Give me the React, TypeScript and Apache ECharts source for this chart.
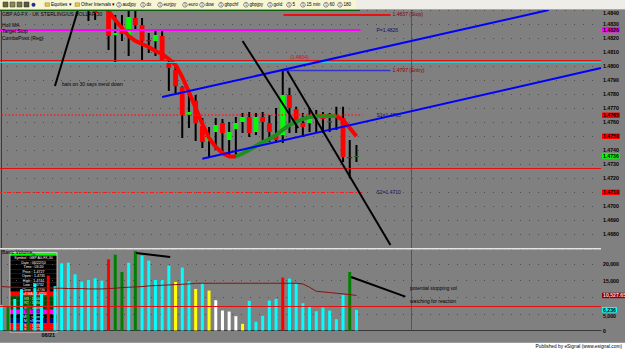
import React, { useEffect, useRef } from "react";
import * as echarts from "echarts";

const FONT = "'Liberation Sans', Arial, sans-serif";

// ---------- data ----------
const SLOT_COUNT = 90; // bar slots on the time axis (54 bars drawn + empty space to the right)
const slots = Array.from({ length: SLOT_COUNT }, (_, i) => String(i));
const dayMarks: Record<number, string> = { 7: "06/21" };

// [open, close, low, high]
const ohlc: number[][] = [
  [1.4872, 1.4878, 1.4866, 1.4884],
  [1.4878, 1.4874, 1.4869, 1.4883],
  [1.4874, 1.488, 1.487, 1.4886],
  [1.488, 1.4871, 1.4866, 1.4885],
  [1.4871, 1.4875, 1.4864, 1.4879],
  [1.4875, 1.4866, 1.4861, 1.4878],
  [1.4866, 1.4869, 1.486, 1.4874],
  [1.4869, 1.4861, 1.4856, 1.4872],
  [1.4861, 1.4864, 1.4855, 1.4868],
  [1.4864, 1.4856, 1.485, 1.4867],
  [1.4856, 1.4858, 1.4849, 1.4863],
  [1.4858, 1.4852, 1.4846, 1.4861],
  [1.4852, 1.4854, 1.4844, 1.4859],
  [1.4854, 1.4849, 1.48322, 1.4858],
  [1.4846, 1.48379, 1.48329, 1.485],
  [1.4845, 1.4848, 1.4842, 1.4851],
  [1.4843, 1.48215, 1.48115, 1.4846],
  [1.48222, 1.48237, 1.48023, 1.48365],
  [1.48251, 1.48229, 1.4818, 1.48365],
  [1.48215, 1.48351, 1.48073, 1.48394],
  [1.48344, 1.48294, 1.48258, 1.48415],
  [1.48294, 1.4818, 1.48037, 1.48344],
  [1.48187, 1.4818, 1.48094, 1.48237],
  [1.4818, 1.48222, 1.48073, 1.48251],
  [1.48215, 1.48037, 1.48037, 1.48251],
  [1.48023, 1.47987, 1.47823, 1.48058],
  [1.47973, 1.47857, 1.47809, 1.48008],
  [1.47851, 1.47652, 1.47488, 1.47857],
  [1.47652, 1.47673, 1.47559, 1.47831],
  [1.47753, 1.47595, 1.47466, 1.47795],
  [1.47573, 1.47459, 1.47416, 1.4763],
  [1.47466, 1.47502, 1.47352, 1.47566],
  [1.47531, 1.47581, 1.47402, 1.4763],
  [1.47595, 1.47523, 1.47388, 1.47623],
  [1.47473, 1.47531, 1.47352, 1.47602],
  [1.47552, 1.47595, 1.47352, 1.47638],
  [1.47602, 1.47638, 1.47523, 1.47666],
  [1.47638, 1.47523, 1.47495, 1.47673],
  [1.47531, 1.47638, 1.47509, 1.47666],
  [1.47638, 1.47602, 1.47473, 1.47673],
  [1.47595, 1.47531, 1.47459, 1.47652],
  [1.47502, 1.47473, 1.47452, 1.47702],
  [1.47509, 1.47795, 1.47452, 1.47973],
  [1.47795, 1.47702, 1.47523, 1.47846],
  [1.47695, 1.47595, 1.47523, 1.4771],
  [1.47595, 1.47566, 1.47495, 1.47666],
  [1.47595, 1.47652, 1.47531, 1.47702],
  [1.47652, 1.4763, 1.47523, 1.47688],
  [1.47638, 1.47623, 1.47523, 1.47673],
  [1.47602, 1.47609, 1.47531, 1.47666],
  [1.47652, 1.47638, 1.47545, 1.4771],
  [1.4763, 1.47352, 1.47316, 1.4771],
  [1.47352, 1.4735, 1.47202, 1.47473],
  [1.47355, 1.4736, 1.47316, 1.47438],
];

const hullFalling: (number | string)[] = [
  1.4879, 1.4878, 1.4877, 1.4876, 1.4874, 1.4873, 1.4871, 1.4869, 1.4867, 1.4865,
  1.4862, 1.4859, 1.4856, 1.4853, 1.4849, 1.4845, 1.48394, 1.48329, 1.48272, 1.48215,
  1.4818, 1.48158, 1.48137, 1.48108, 1.48087, 1.48051, 1.48008, 1.47923, 1.47816, 1.47702,
  1.47588, 1.47488, 1.47423, 1.4738, 1.47356, 1.47356, "-", "-", "-", "-",
  "-", "-", "-", "-", "-", "-", "-", "-", "-", "-",
  1.47645, 1.47616, 1.47559, 1.475,
];
const hullRising: (number | string)[] = [
  "-", "-", "-", "-", "-", "-", "-", "-", "-", "-",
  "-", "-", "-", "-", "-", "-", "-", "-", "-", "-",
  "-", "-", "-", "-", "-", "-", "-", "-", "-", "-",
  "-", "-", "-", "-", "-", 1.47356, 1.47377, 1.47402, 1.47431, 1.47459,
  1.4748, 1.47509, 1.47545, 1.47581, 1.47602, 1.47623, 1.47638, 1.47645, 1.47645, 1.47645,
  1.47645, "-", "-", "-",
];

const volumes = [
  7700, 7200, 9500, 12400, 8100, 14200, 11000, 16500, 13300, 20200,
  20400, 16900, 14700, 15200, 15700, 15000, 21400, 22800, 17600, 20400,
  23900, 22500, 21000, 15200, 15200, 19500, 14600, 18900, 14800, 12500,
  14200, 12000, 9100, 6000, 5700, 4300, 2000, 8900, 2600, 4400,
  9000, 9500, 15900, 15600, 14100, 8200, 7200, 5800, 6900, 6000,
  3400, 10700, 17600, 6200,
];
// c = cyan, g = green, r = red, y = yellow, w = white
const volumeKind = "cgccgccrcccccccc" + "rggcgccccc" + "yccycywwwwy" + "ccccc" + "r" + "ccccccccc" + "g" + "c";

const volumeMA = [
  13200, 13100, 13000, 13000, 12900, 12900, 12800, 12800, 12700, 12700,
  12600, 12600, 12600, 12500, 12500, 12500, 12600, 12700, 12900, 13000,
  13100, 13200, 13400, 13500, 13600, 13700, 13800, 13900, 14000, 14200,
  14200, 14200, 14200, 14200, 14200, 14200, 14200, 14200, 14200, 14200,
  14200, 14200, 14200, 14200, 14200, 14000, 13000, 11800, 11600, 11400,
  11200, 11000, 10800, 10527.65,
];

const stopLevel = 1.4837;
const entryLevel = 1.4797;
const pivotLevel = 1.4826;
const s1Level = 1.4765;
const s2Level = 1.471;
const fibLevel = 1.4804;
const cyanLevel = 1.4803;
const hullLast = 1.475;
const lastClose = 1.4736;
const cursorPrice = 1.4727;
const cursorVolume = 7370;
const cursorSlot = 61.2;
const lastVolumeTag = 6236;

// drawn trend lines: [slot, price]
const upperChannel = [[24, 1.4778], [81.7, 1.484]];
const lowerChannel = [[30, 1.4734], [89.5, 1.47987]];
const blackPriceLines = [
  [[8.0, 1.47859], [11.43, 1.48401]],
  [[36.0, 1.4818], [44.3, 1.47559]],
  [[42.68, 1.47966], [58.07, 1.46724]],
];
// [slot, volume]
const blackVolumeLines = [
  [[20.1, 23300], [25.2, 22100]],
  [[52.2, 16100], [60.3, 10200]],
];

const dataWindow = [
  ["On", "#00ff00", "#000000"],
  ["Symbol : GBP A0-FX,30", "#000000", "#ffffff"],
  ["Date : 06/22/10", "#000000", "#ffffff"],
  ["Time : 03:20", "#000000", "#ffffff"],
  ["Price : 1.4727", "#000000", "#ffffff"],
  ["Open : 1.4735", "#000000", "#ffffff"],
  ["High : 1.4744", "#000000", "#ffffff"],
  ["Low : 1.4732", "#000000", "#ffffff"],
  ["Close : 1.4736", "#000000", "#ffffff"],
  ["Hull MA : 1.4750", "#ff0000", "#ffffff"],
  ["R3 : 1.5003", "#004d00", "#ffffff"],
  ["R2 : 1.4942", "#004d00", "#ffffff"],
  ["R1 : 1.4882", "#004d00", "#ffffff"],
  ["P : 1.4826", "#ff00ff", "#000000"],
  ["MP : <None>", "#000000", "#ffffff"],
  ["M : <None>", "#000080", "#ffffff"],
  ["S1 : 1.4765", "#ff0000", "#ffffff"],
  ["S2 : 1.4710", "#ff0000", "#ffffff"],
];

const toolbarButtons: [string, number][] = [
  ["audjpy", 119], ["dx", 143], ["eurjpy", 160], ["euro", 185], ["dow", 202],
  ["gbpchf", 221], ["gbpjpy", 246], ["gold", 270], ["5", 289], ["15 min", 303],
  ["60", 326], ["180", 340],
];

// ---------- option ----------
const kindColor: Record<string, string> = {
  c: "#00ffff", g: "#008000", r: "#ff0000", y: "#ffff00", w: "#ffffff",
};

// axis ticks whose label is covered by a coloured value tag
const coveredPriceTicks = [hullLast, s2Level];
const coveredVolumeTicks = [10000];

function tag(value: number, text: string, bg: string, fg: string) {
  return {
    yAxis: value,
    lineStyle: { color: "rgba(0,0,0,0)", width: 0 },
    label: {
      show: true, position: "end", distance: 1, formatter: text,
      backgroundColor: bg, color: fg, fontSize: 5.2, fontWeight: "bold",
      fontFamily: FONT, padding: [0.5, 1, 0, 1], opacity: 1,
    },
  };
}

function segment(x1: number, x2: number, y: number, line: any, text: string, color: string, dist: number) {
  return [
    {
      coord: [x1, y], lineStyle: line,
      label: { show: !!text, position: "end", distance: dist, formatter: text, color, fontSize: 5, fontFamily: FONT },
    },
    { coord: [x2, y] },
  ];
}

function buildOption(): any {
  const candleData = ohlc.map((d, i) => [i, d[0], d[1], d[2], d[3]]);
  const volData = volumes.map((v, i) => ({ value: v, itemStyle: { color: kindColor[volumeKind[i]] } }));

  const g: any[] = [];
  // toolbar
  g.push({ type: "rect", z: 100, shape: { x: 0, y: 0, width: 625, height: 9.5 }, style: { fill: "#eeede8" } });
  g.push({ type: "rect", z: 100, shape: { x: 0, y: 0, width: 356, height: 9.5 }, style: { fill: "#f8f5d2" } });
  g.push({ type: "line", z: 100, shape: { x1: 0, y1: 9.5, x2: 625, y2: 9.5 }, style: { stroke: "#a8a8a0", lineWidth: 1 } });
  [3, 10, 17, 24].forEach((x, k) =>
    g.push({ type: "rect", z: 101, shape: { x, y: 2, width: 5, height: 5 }, style: { fill: ["#6a6a30", "#8a8a50", "#7a7a40", "#5a5a40"][k], stroke: "#303030", lineWidth: 0.5 } })
  );
  g.push({ type: "circle", z: 101, shape: { cx: 33.5, cy: 4.7, r: 2 }, style: { fill: "#2030a0" } });
  g.push({ type: "rect", z: 101, shape: { x: 45, y: 2.8, width: 4.5, height: 3.5 }, style: { fill: "#e8c850", stroke: "#806020", lineWidth: 0.4 } });
  g.push({ type: "text", z: 101, style: { x: 51, y: 4.9, text: "Equities \u25BE", fontSize: 4.6, fontFamily: FONT, fill: "#000", verticalAlign: "middle" } });
  g.push({ type: "rect", z: 101, shape: { x: 75, y: 2.8, width: 4.5, height: 3.5 }, style: { fill: "#e8c850", stroke: "#806020", lineWidth: 0.4 } });
  g.push({ type: "text", z: 101, style: { x: 81, y: 4.9, text: "Other Intervals \u25BE", fontSize: 4.6, fontFamily: FONT, fill: "#000", verticalAlign: "middle" } });
  toolbarButtons.forEach(([t, x]) => {
    g.push({ type: "circle", z: 101, shape: { cx: x, cy: 4.8, r: 2.3 }, style: { fill: "#ffffff", stroke: "#303030", lineWidth: 0.6 } });
    g.push({ type: "text", z: 102, style: { x, y: 4.9, text: "5", fontSize: 3, fontFamily: FONT, fill: "#000", align: "center", verticalAlign: "middle" } });
    g.push({ type: "text", z: 101, style: { x: x + 3.5, y: 4.9, text: t, fontSize: 4.6, fontFamily: FONT, fill: "#000", verticalAlign: "middle" } });
  });
  g.push({ type: "line", z: 100, shape: { x1: 0, y1: 10.5, x2: 360, y2: 10.5 }, style: { stroke: "#0b5a0b", lineWidth: 1 } });
  // title & legend
  g.push({ type: "text", z: 60, style: { x: 2, y: 14, text: "GBP A0-FX - UK STERLING/US DOLLAR,30", fontSize: 5, fontFamily: FONT, fill: "#000", verticalAlign: "middle" } });
  g.push({ type: "text", z: 60, style: { x: 2, y: 24.5, text: "Hull MA", fontSize: 5, fontFamily: FONT, fill: "#000", verticalAlign: "middle" } });
  g.push({ type: "text", z: 60, style: { x: 2, y: 31, text: "Target Stop", fontSize: 5, fontFamily: FONT, fill: "#000", verticalAlign: "middle" } });
  g.push({ type: "text", z: 60, style: { x: 2, y: 37.5, text: "ComboPivot (Reg)", fontSize: 5, fontFamily: FONT, fill: "#000", verticalAlign: "middle" } });
  // notes
  g.push({ type: "text", z: 60, style: { x: 62, y: 84, text: "bals on 30 says trend down", fontSize: 5, fontFamily: FONT, fill: "#000", verticalAlign: "middle" } });
  g.push({ type: "text", z: 60, style: { x: 410, y: 288, text: "potential stopping vol", fontSize: 5, fontFamily: FONT, fill: "#000", verticalAlign: "middle" } });
  g.push({ type: "text", z: 60, style: { x: 410, y: 301, text: "watching for reaction", fontSize: 5, fontFamily: FONT, fill: "#000", verticalAlign: "middle" } });
  // pane separator
  g.push({ type: "line", z: 60, shape: { x1: 0, y1: 248.7, x2: 601, y2: 248.7 }, style: { stroke: "#e4e4e4", lineWidth: 1.6 } });
  g.push({ type: "text", z: 60, style: { x: 2, y: 251.5, text: "Basic Volume", fontSize: 5, fontFamily: FONT, fill: "#000", verticalAlign: "middle" } });
  // data window
  let yy = 252.5;
  const win: any[] = [];
  dataWindow.forEach(([t, bg, fg], k) => {
    const h = k === 0 ? 3.2 : 4.5;
    win.push({ type: "rect", shape: { x: 10, y: yy, width: 47, height: h }, style: { fill: bg } });
    win.push({ type: "text", style: { x: 33.5, y: yy + h / 2 + 0.2, text: t, fontSize: k === 0 ? 2.8 : 3.6, fontFamily: FONT, fill: fg, align: "center", verticalAlign: "middle" } });
    yy += h;
  });
  win.push({ type: "rect", shape: { x: 10, y: 252.5, width: 47, height: yy - 252.5 }, style: { fill: "none", stroke: "#d8d8d8", lineWidth: 0.8 } });
  g.push({ type: "group", z: 90, children: win });
  // status bar
  g.push({ type: "rect", z: 100, shape: { x: 0, y: 342.5, width: 625, height: 7.5 }, style: { fill: "#ffffff" } });
  g.push({ type: "line", z: 100, shape: { x1: 0, y1: 342.5, x2: 625, y2: 342.5 }, style: { stroke: "#9a9a9a", lineWidth: 1 } });
  g.push({ type: "text", z: 101, style: { x: 622, y: 346.5, text: "Published by eSignal (www.esignal.com)", fontSize: 4.8, fontFamily: FONT, fill: "#000", align: "right", verticalAlign: "middle" } });

  const hiddenCat = { show: false };
  const lineSeries = (name: string, data: any, xAxisIndex: number, yAxisIndex: number, color: string, width: number, z: number) => ({
    type: "line", name, data, xAxisIndex, yAxisIndex, symbol: "none", silent: true, z,
    lineStyle: { color, width }, clip: true,
  });
  const near = (a: number, b: number, eps: number) => Math.abs(a - b) < eps;

  return {
    animation: false,
    backgroundColor: "#808080",
    textStyle: { fontFamily: FONT },
    graphic: { elements: g },
    grid: [
      { left: -2, right: 24, top: 10.09, height: 238.34, outerBoundsMode: "none", containLabel: false },
      { left: -2, right: 24, top: 249, height: 81.5, outerBoundsMode: "none", containLabel: false },
    ],
    xAxis: [
      { type: "category", gridIndex: 0, data: slots, boundaryGap: true, axisLine: hiddenCat, axisTick: hiddenCat, axisLabel: hiddenCat, splitLine: hiddenCat },
      {
        type: "category", gridIndex: 1, data: slots, boundaryGap: true,
        axisLine: { show: true, lineStyle: { color: "#383838", width: 1 } },
        axisTick: { show: false }, splitLine: { show: false },
        axisLabel: { interval: 0, margin: 1.5, fontSize: 5.5, fontWeight: "bold", color: "#000", fontFamily: FONT, formatter: (_v: string, i: number) => dayMarks[i] ?? "" },
      },
      { type: "value", gridIndex: 0, min: -0.5, max: SLOT_COUNT - 0.5, show: false, splitLine: hiddenCat },
      { type: "value", gridIndex: 1, min: -0.5, max: SLOT_COUNT - 0.5, show: false, splitLine: hiddenCat },
    ],
    yAxis: [
      {
        type: "value", gridIndex: 0, position: "right", min: 1.467, max: 1.484, interval: 0.001,
        axisLine: { show: true, lineStyle: { color: "#3a3a3a", width: 1 } }, axisTick: { show: false },
        splitLine: { show: true, lineStyle: { color: "#4e4e4e", type: [1, 8], width: 1 } },
        axisLabel: {
          showMinLabel: false, margin: 2, fontSize: 5.2, fontWeight: "bold", color: "#000", fontFamily: FONT,
          formatter: (v: number) => {
            if (coveredPriceTicks.some((c) => near(c, v, 0.00002))) return "";
            return v > 1.48395 ? `{t|${v.toFixed(4)}}` : v.toFixed(4);
          },
          rich: { t: { padding: [6, 0, 0, 0], fontSize: 5.2, fontWeight: "bold", color: "#000", fontFamily: FONT } },
        },
      },
      {
        type: "value", gridIndex: 1, position: "right", min: 0, max: 24500, interval: 5000,
        axisLine: { show: true, lineStyle: { color: "#3a3a3a", width: 1 } }, axisTick: { show: false },
        splitLine: { show: true, lineStyle: { color: "#4e4e4e", type: [1, 8], width: 1 } },
        axisLabel: {
          showMaxLabel: false, margin: 2, fontSize: 5.2, fontWeight: "bold", color: "#000", fontFamily: FONT,
          formatter: (v: number) => {
            if (coveredVolumeTicks.some((c) => near(c, v, 1))) return "";
            const s = v.toLocaleString("en-US");
            return near(v, 5000, 1) ? `{d|${s}}` : s;
          },
          rich: { d: { padding: [4, 0, 0, 0], fontSize: 5.2, fontWeight: "bold", color: "#000", fontFamily: FONT } },
        },
      },
    ],
    series: [
      // level lines (behind the candles)
      {
        type: "line", name: "levels", data: [], xAxisIndex: 2, yAxisIndex: 0, z: 1, silent: true,
        markLine: {
          silent: true, symbol: "none", animation: false, precision: 6,
          data: [
            { yAxis: fibLevel, lineStyle: { color: "#e01010", width: 1, type: "solid" }, label: { show: true, position: "insideMiddleTop", distance: 1, formatter: "(1.4804)", color: "#d01010", fontSize: 5, fontFamily: FONT } },
            { yAxis: cyanLevel, lineStyle: { color: "#3cc8c8", width: 1, type: "solid" }, label: { show: false } },
            { yAxis: cursorPrice, lineStyle: { color: "#e01010", width: 1, type: "solid" }, label: { show: false } },
            { xAxis: cursorSlot, lineStyle: { color: "#a83030", width: 1, type: "solid" }, label: { show: false } },
            segment(-0.5, 53.6, pivotLevel, { color: "#ff00ff", width: 2, type: "solid" }, "P=1.4826", "#101060", 16),
            segment(-0.5, 53.9, s1Level, { color: "#ff1a1a", width: 1.5, type: [1.5, 2] }, "S1=1.4765", "#101060", 14),
            segment(-0.5, 53.9, s2Level, { color: "#ff1a1a", width: 1.2, type: [4, 2, 1.5, 2] }, "S2=1.4710", "#101060", 14),
            segment(42.1, 58.1, stopLevel, { color: "#e81010", width: 2, type: "solid" }, "1.4837 (Stop)", "#8b0000", 2),
            segment(42.1, 58.1, entryLevel, { color: "#3434c8", width: 1.4, type: "solid" }, "1.4797 (Entry)", "#8b0000", 2),
            tag(pivotLevel, "1.4826", "#ff00ff", "#000"),
            tag(s1Level, "1.4765", "#ff0000", "#000"),
            tag(hullLast, "1.4750", "#ff0000", "#000"),
            tag(lastClose, "1.4736", "#00ff00", "#000"),
            tag(s2Level, "1.4710", "#ff0000", "#000"),
          ],
        },
      },
      {
        type: "custom", name: "price", data: candleData, xAxisIndex: 0, yAxisIndex: 0, z: 3, clip: true, silent: true,
        encode: { x: 0, y: [1, 2, 3, 4] },
        renderItem: (_p: any, api: any) => {
          const i = api.value(0);
          const o = api.value(1), c = api.value(2), l = api.value(3), h = api.value(4);
          const hi = api.coord([i, h]);
          const lo = api.coord([i, l]);
          const po = api.coord([i, o]);
          const pc = api.coord([i, c]);
          const w = api.size([1, 0])[0] * 0.72;
          const top = Math.min(po[1], pc[1]);
          const bh = Math.max(Math.abs(po[1] - pc[1]), 1.2);
          const up = c >= o;
          const doji = Math.abs(po[1] - pc[1]) < 1.5;
          return {
            type: "group",
            children: [
              { type: "line", shape: { x1: hi[0], y1: hi[1], x2: lo[0], y2: lo[1] }, style: { stroke: "#000", lineWidth: 2 } },
              { type: "rect", shape: { x: po[0] - w / 2, y: top, width: w, height: bh }, style: { fill: doji ? (up ? "#1b6b1b" : "#6b1b1b") : up ? "#00ff00" : "#ff0000" } },
            ],
          };
        },
      },
      lineSeries("Hull MA falling", hullFalling, 0, 0, "#ff0000", 4, 4),
      lineSeries("Hull MA rising", hullRising, 0, 0, "#1f8f1f", 4, 4),
      lineSeries("upper channel", upperChannel, 2, 0, "#0000ff", 2, 5),
      lineSeries("lower channel", lowerChannel, 2, 0, "#0000ff", 2, 5),
      ...blackPriceLines.map((d, k) => lineSeries(`trend ${k}`, d, 2, 0, "#000000", 2, 6)),
      // volume pane
      {
        type: "bar", name: "volume", data: volData, xAxisIndex: 1, yAxisIndex: 1, barWidth: 3, z: 2, silent: true,
      },
      lineSeries("volume MA", volumeMA, 1, 1, "#8b1010", 1, 3),
      ...blackVolumeLines.map((d, k) => lineSeries(`vol trend ${k}`, d, 3, 1, "#000000", 2, 6)),
      {
        type: "line", name: "volume levels", data: [], xAxisIndex: 3, yAxisIndex: 1, z: 1, silent: true,
        markLine: {
          silent: true, symbol: "none", animation: false, precision: 6,
          data: [
            { xAxis: cursorSlot, lineStyle: { color: "#a83030", width: 1, type: "solid" }, label: { show: false } },
            { yAxis: cursorVolume, lineStyle: { color: "#e01010", width: 1, type: "solid" }, label: { show: false } },
            tag(volumeMA[volumeMA.length - 1], "10,527.65", "#8b0000", "#ffd0d0"),
            tag(lastVolumeTag, lastVolumeTag.toLocaleString("en-US"), "#00ffff", "#000"),
          ],
        },
      },
    ],
  };
}

export default function App() {
  const ref = useRef<HTMLDivElement>(null);
  useEffect(() => {
    document.body.style.margin = "0";
    const chart = echarts.init(ref.current!, undefined, { renderer: "svg" });
    chart.setOption(buildOption());
    return () => chart.dispose();
  }, []);
  return (
    <div
      ref={ref}
      style={{ position: "fixed", left: 0, top: 0, width: 625, height: 350, background: "#808080" }}
    />
  );
}
